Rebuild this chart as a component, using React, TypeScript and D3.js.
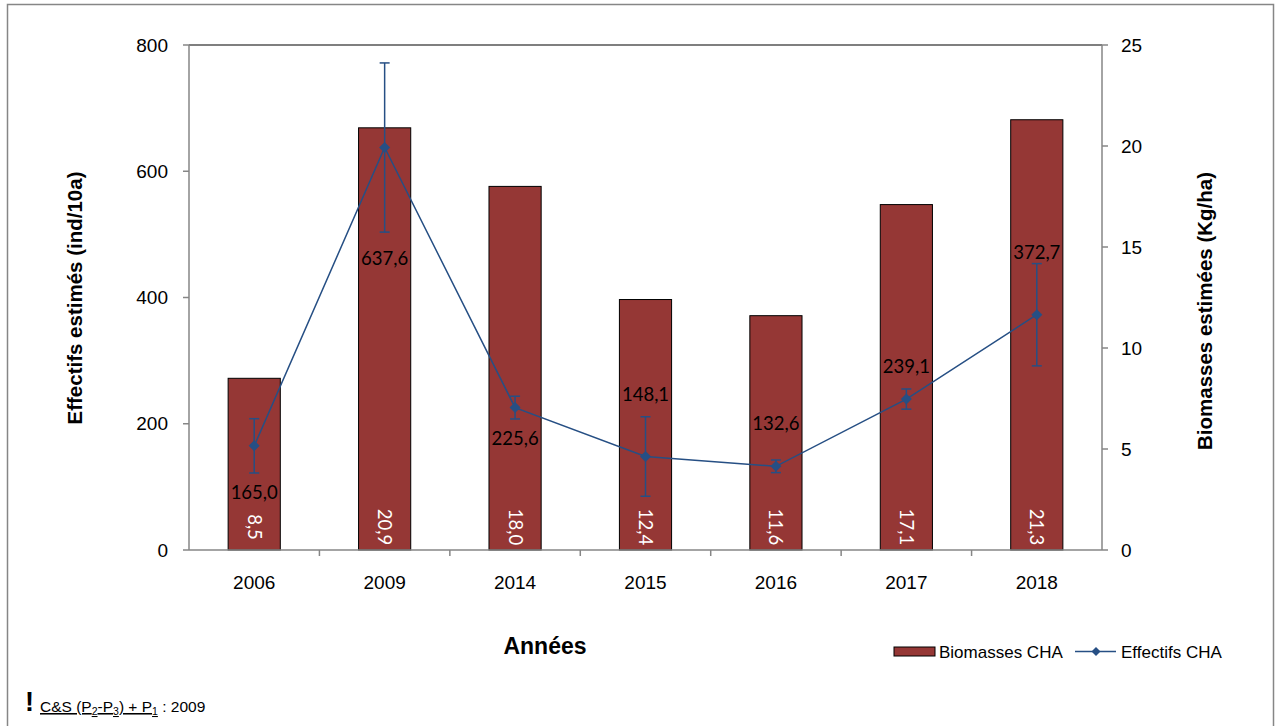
import * as d3 from "d3";

const years = ["2006", "2009", "2014", "2015", "2016", "2017", "2018"];
const biomasses = [8.5, 20.9, 18.0, 12.4, 11.6, 17.1, 21.3];
const effectifs = [165.0, 637.6, 225.6, 148.1, 132.6, 239.1, 372.7];
const effectifsErr = [43, 134, 18, 63, 10, 16, 81];

const leftTicks = [0, 200, 400, 600, 800];
const rightTicks = [0, 5, 10, 15, 20, 25];

// layout: vertical offset (px) of each line label from its point, as placed in the original
const labelOffset = [47, 111, 31, -62, -43, -33, -62];

const W = 1276;
const H = 726;
const plot = { left: 189, right: 1102, top: 45, bottom: 550 };
const barColor = "#953735";
const lineColor = "#264F84";
const axisGrey = "#868686";
const fmt = (v: number) => v.toFixed(1).replace(".", ",");

export default function App() {
  const x = d3
    .scaleBand()
    .domain(years)
    .range([plot.left, plot.right])
    .paddingInner(0.6)
    .paddingOuter(0.3);
  const band = d3.scaleBand().domain(years).range([plot.left, plot.right]);
  const yL = d3.scaleLinear().domain([0, 800]).range([plot.bottom, plot.top]);
  const yR = d3.scaleLinear().domain([0, 25]).range([plot.bottom, plot.top]);
  const cx = (y: string) => (band(y) ?? 0) + band.bandwidth() / 2;

  const line = d3
    .line<number>()
    .x((_, i) => cx(years[i]))
    .y((d) => yL(d));

  const diamond = (px: number, py: number, r = 5.5) =>
    `M${px},${py - r}L${px + r},${py}L${px},${py + r}L${px - r},${py}Z`;

  const arial = "Liberation Sans, Arial, sans-serif";
  const calibri = "Lato, Carlito, sans-serif";

  return (
    <svg width={W} height={H} style={{ position: "absolute", left: 0, top: 0 }}>
      <rect x={7.5} y={4.5} width={1266} height={740} fill="white" stroke={axisGrey} strokeWidth={1.5} />

      {/* bars */}
      {years.map((yr, i) => (
        <rect
          key={yr}
          x={x(yr)}
          y={yR(biomasses[i])}
          width={x.bandwidth()}
          height={plot.bottom - yR(biomasses[i])}
          fill={barColor}
          stroke="#000"
          strokeWidth={1}
        />
      ))}
      {years.map((yr, i) => (
        <text
          key={"bl" + yr}
          transform={`translate(${cx(yr)},527) rotate(90)`}
          textAnchor="middle"
          dy="0.35em"
          fill="white"
          fontFamily={calibri}
          fontSize={18.5}
        >
          {fmt(biomasses[i])}
        </text>
      ))}

      {/* axes */}
      <line x1={plot.left} x2={plot.right} y1={plot.top} y2={plot.top} stroke="#000" strokeWidth={1.2} />
      <line x1={plot.left} x2={plot.left} y1={plot.top} y2={plot.bottom} stroke={axisGrey} strokeWidth={1.5} />
      <line x1={plot.right} x2={plot.right} y1={plot.top} y2={plot.bottom} stroke={axisGrey} strokeWidth={1.5} />
      <line x1={plot.left} x2={plot.right} y1={plot.bottom} y2={plot.bottom} stroke={axisGrey} strokeWidth={1.5} />
      {leftTicks.map((t) => (
        <g key={"lt" + t}>
          <line x1={plot.left - 6} x2={plot.left} y1={yL(t)} y2={yL(t)} stroke={axisGrey} strokeWidth={1.5} />
          <text x={plot.left - 21} y={yL(t)} dy="0.35em" textAnchor="end" fontFamily={arial} fontSize={19}>
            {t}
          </text>
        </g>
      ))}
      {rightTicks.map((t) => (
        <g key={"rt" + t}>
          <line x1={plot.right} x2={plot.right + 6} y1={yR(t)} y2={yR(t)} stroke={axisGrey} strokeWidth={1.5} />
          <text x={plot.right + 19} y={yR(t)} dy="0.35em" textAnchor="start" fontFamily={arial} fontSize={19}>
            {t}
          </text>
        </g>
      ))}
      {years.slice(1).map((yr) => (
        <line
          key={"xt" + yr}
          x1={band(yr)}
          x2={band(yr)}
          y1={plot.bottom}
          y2={plot.bottom + 6}
          stroke={axisGrey}
          strokeWidth={1.5}
        />
      ))}
      {years.map((yr) => (
        <text key={"xl" + yr} x={cx(yr)} y={589} textAnchor="middle" fontFamily={arial} fontSize={19}>
          {yr}
        </text>
      ))}

      {/* axis titles */}
      <text
        transform="translate(82,298) rotate(-90)"
        textAnchor="middle"
        fontFamily={arial}
        fontSize={20.5}
        fontWeight="bold"
      >
        Effectifs estimés (ind/10a)
      </text>
      <text
        transform="translate(1212,311) rotate(-90)"
        textAnchor="middle"
        fontFamily={arial}
        fontSize={20.5}
        fontWeight="bold"
      >
        Biomasses estimées (Kg/ha)
      </text>
      <text x={545} y={654} textAnchor="middle" fontFamily={arial} fontSize={23} fontWeight="bold">
        Années
      </text>

      {/* error bars */}
      {years.map((yr, i) => {
        const px = cx(yr);
        const top = yL(effectifs[i] + effectifsErr[i]);
        const bot = yL(effectifs[i] - effectifsErr[i]);
        return (
          <g key={"eb" + yr} stroke={lineColor} strokeWidth={1.5}>
            <line x1={px} x2={px} y1={top} y2={bot} />
            <line x1={px - 5} x2={px + 5} y1={top} y2={top} />
            <line x1={px - 5} x2={px + 5} y1={bot} y2={bot} />
          </g>
        );
      })}

      {/* line */}
      <path d={line(effectifs) ?? ""} fill="none" stroke={lineColor} strokeWidth={1.5} />
      {years.map((yr, i) => (
        <path key={"dm" + yr} d={diamond(cx(yr), yL(effectifs[i]))} fill={lineColor} />
      ))}
      {years.map((yr, i) => (
        <text
          key={"ll" + yr}
          x={cx(yr)}
          y={yL(effectifs[i]) + labelOffset[i]}
          dy="0.35em"
          textAnchor="middle"
          fill="#000"
          fontFamily={calibri}
          fontSize={18.5}
        >
          {fmt(effectifs[i])}
        </text>
      ))}

      {/* legend */}
      <rect x={894} y={647} width={41} height={9} fill={barColor} stroke="#000" strokeWidth={1} />
      <text x={939} y={658} fontFamily={arial} fontSize={17}>
        Biomasses CHA
      </text>
      <line x1={1075} x2={1116} y1={651.5} y2={651.5} stroke={lineColor} strokeWidth={1.5} />
      <path d={diamond(1096, 651.5, 4.5)} fill={lineColor} />
      <text x={1121} y={658} fontFamily={arial} fontSize={17}>
        Effectifs CHA
      </text>

      {/* footnote */}
      <text x={25} y={711} fontFamily={arial} fontSize={27} fontWeight="bold">
        !
      </text>
      <text x={40} y={712} fontFamily={arial} fontSize={15.5}>
        <tspan textDecoration="underline">C&amp;S (P</tspan>
        <tspan textDecoration="underline" fontSize={10.5} dy={3}>2</tspan>
        <tspan textDecoration="underline" dy={-3}>-P</tspan>
        <tspan textDecoration="underline" fontSize={10.5} dy={3}>3</tspan>
        <tspan textDecoration="underline" dy={-3}>) + P</tspan>
        <tspan textDecoration="underline" fontSize={10.5} dy={3}>1</tspan>
        <tspan dy={-3}> : 2009</tspan>
      </text>
    </svg>
  );
}
